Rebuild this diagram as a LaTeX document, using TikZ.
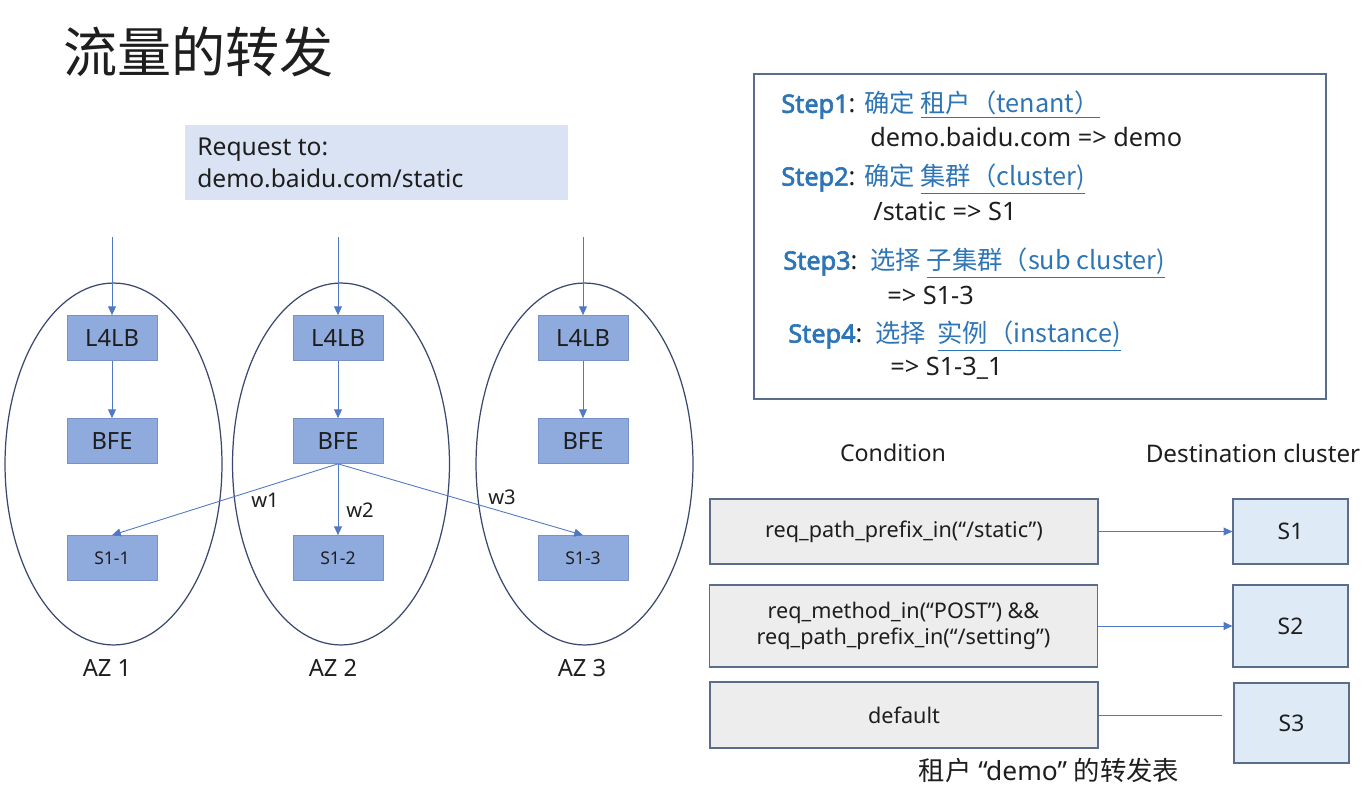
\documentclass[tikz,border=0pt]{standalone}
\usepackage{fontspec}
\setmainfont{Noto Sans}[AutoFakeBold=2.5]
\newfontfamily\cjk{Noto Sans CJK SC}
\usetikzlibrary{arrows.meta,shapes.geometric}
\definecolor{boxblue}{RGB}{143,170,220}
\definecolor{boxedge}{RGB}{118,146,200}
\definecolor{lineblue}{RGB}{80,120,196}
\definecolor{ringedge}{RGB}{58,72,112}
\definecolor{reqfill}{RGB}{218,227,243}
\definecolor{stepblue}{RGB}{46,117,182}
\definecolor{condfill}{RGB}{237,237,237}
\definecolor{destfill}{RGB}{222,235,247}
\definecolor{tabedge}{RGB}{92,108,140}
\definecolor{txt}{RGB}{30,30,30}
\begin{document}
\begin{tikzpicture}[x=0.02cm,y=-0.02cm,
  box/.style={draw=boxedge,fill=boxblue,minimum width=1.8cm,minimum height=0.9cm,inner sep=0pt,font=\fontsize{13.5}{16}\selectfont,text=txt},
  sbox/.style={box,font=\fontsize{10}{12}\selectfont},
  ring/.style={draw=ringedge,line width=0.7pt,ellipse,minimum width=4.34cm,minimum height=7.24cm,inner sep=0pt},
  arr/.style={draw=lineblue,line width=0.5pt,-{Triangle[length=5pt,width=4.5pt]}},
  cond/.style={draw=tabedge,fill=condfill,line width=0.7pt,minimum width=7.76cm,inner sep=0pt,align=center,font=\fontsize{12.3}{15}\selectfont,text=txt},
  dest/.style={draw=tabedge,fill=destfill,line width=0.7pt,minimum width=2.3cm,inner sep=0pt,font=\fontsize{13}{15}\selectfont,text=txt},
  lbl/.style={text=txt,inner sep=0pt},
  steptext/.style={anchor=west,inner sep=0pt,font=\fontsize{14.4}{17}\selectfont,text=txt}]
\useasboundingbox (0,0) rectangle (1365,791);
\node[lbl,anchor=west,font=\cjk\fontsize{30.8}{34}\selectfont] (title) at (63,52) {流量的转发};
\fill[reqfill] (185,125) rectangle (568,200);
\node[lbl,anchor=west,align=left,font=\fontsize{14}{18}\selectfont] (req) at (197,163) {Request to:\\demo.baidu.com/static};
\node[ring] (az1) at (113.5,464) {};
\node[ring] (az2) at (341,464) {};
\node[ring] (az3) at (584.5,464) {};
\node[box] (l1) at (112,338) {L4LB};
\node[box] (l2) at (338,338) {L4LB};
\node[box] (l3) at (583,338) {L4LB};
\node[box] (b1) at (112,441) {BFE};
\node[box] (b2) at (338,441) {BFE};
\node[box] (b3) at (583,441) {BFE};
\node[sbox] (s11) at (112,558) {S1-1};
\node[sbox] (s12) at (338,558) {S1-2};
\node[sbox] (s13) at (583,558) {S1-3};
\coordinate (in1) at (112,237);
\coordinate (in2) at (338,237);
\coordinate (in3) at (583,237);
\draw[arr] (in1) -- (l1);
\draw[arr] (in2) -- (l2);
\draw[arr] (in3) -- (l3);
\draw[arr] (l1) -- (b1);
\draw[arr] (l2) -- (b2);
\draw[arr] (l3) -- (b3);
\draw[arr] (b2.south) -- (s11.north);
\draw[arr] (b2.south) -- (s12.north);
\draw[arr] (b2.south) -- (s13.north);
\node[lbl,font=\fontsize{11.5}{13}\selectfont] (w1) at (265,500) {w1};
\node[lbl,font=\fontsize{11.5}{13}\selectfont] (w2) at (360,510) {w2};
\node[lbl,font=\fontsize{11.5}{13}\selectfont] (w3) at (502,497) {w3};
\node[lbl,font=\fontsize{13.5}{16}\selectfont] (az1lbl) at (107,668) {AZ 1};
\node[lbl,font=\fontsize{13.5}{16}\selectfont] (az2lbl) at (333,668) {AZ 2};
\node[lbl,font=\fontsize{13.5}{16}\selectfont] (az3lbl) at (582,668) {AZ 3};
\draw[draw=tabedge,line width=0.7pt] (754,74) rectangle (1326,399);
\node[steptext] (st1) at (781,105) {\textcolor{stepblue}{\textbf{Step1}}: \textcolor{stepblue}{\cjk 确定 \underline{租户（tenant）}}};
\node[steptext] (st1b) at (870,137) {demo.baidu.com => demo};
\node[steptext] (st2) at (781,179) {\textcolor{stepblue}{\textbf{Step2}}: \textcolor{stepblue}{\cjk 确定 \underline{集群（cluster)}}};
\node[steptext] (st2b) at (873,211) {/static => S1};
\node[steptext] (st3) at (783,263) {\textcolor{stepblue}{\textbf{Step3}}:\ \ \textcolor{stepblue}{\cjk 选择 \underline{子集群（sub cluster)}}};
\node[steptext] (st3b) at (887,295) {=> S1-3};
\node[steptext] (st4) at (788,336) {\textcolor{stepblue}{\textbf{Step4}}:\ \ \textcolor{stepblue}{\cjk 选择\ \ \underline{实例（instance)}}};
\node[steptext] (st4b) at (890,368) {=> S1-3\_1};
\node[lbl,font=\fontsize{13.2}{16}\selectfont] (hcond) at (893,453) {Condition};
\node[lbl,font=\fontsize{13.8}{16}\selectfont] (hdest) at (1253,453) {Destination cluster};
\node[cond,minimum height=1.3cm] (c1) at (904,531.5) {req\_path\_prefix\_in(“/static”)};
\node[cond,minimum height=1.64cm] (c2) at (903.5,626) {req\_method\_in(“POST”) \&\&\\req\_path\_prefix\_in(“/setting”)};
\node[cond,minimum height=1.32cm] (c3) at (904,715) {default};
\node[dest,minimum height=1.3cm] (d1) at (1290.5,531.5) {S1};
\node[dest,minimum height=1.64cm] (d2) at (1290.5,626) {S2};
\node[dest,minimum height=1.6cm] (d3) at (1291.5,723) {S3};
\coordinate (c3end) at (1222,715);
\draw[arr] (c1) -- (d1);
\draw[arr] (c2) -- (d2);
\draw[draw=lineblue,line width=0.5pt] (c3) -- (c3end);
\node[lbl,font=\fontsize{15}{18}\selectfont] (cap) at (1049,770) {{\cjk 租户} “demo” {\cjk 的转发表}};
\end{tikzpicture}
\end{document}
